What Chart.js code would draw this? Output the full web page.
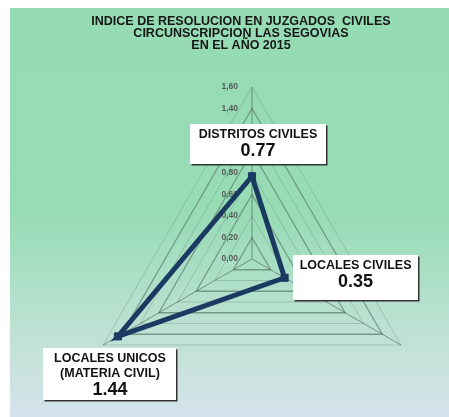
<!DOCTYPE html>
<html>
<head>
<meta charset="utf-8">
<script src="https://cdn.jsdelivr.net/npm/chart.js@4/dist/chart.umd.min.js"></script>
<style>
  html, body { margin: 0; padding: 0; background: #fff; overflow: hidden; width: 449px; height: 417px; }
  #bg {
    position: absolute; left: 10px; top: 8px; width: 439px; height: 409px;
    background: linear-gradient(to bottom, #95dbb3 0%, #97dcb5 50%, #b4e0cd 72%, #c9e3dc 88%, #d5e3ec 100%);
  }
  #wrap { position: absolute; left: 0; top: 0; width: 449px; height: 431px; }
</style>
</head>
<body>
<div id="bg"></div>
<div id="wrap"><canvas id="myChart" width="449" height="431"></canvas></div>
<script>
// chart data
var titleLines = ['INDICE DE RESOLUCION EN JUZGADOS  CIVILES', 'CIRCUNSCRIPCION LAS SEGOVIAS', 'EN EL AÑO 2015'];
var categories = [['DISTRITOS CIVILES'], ['LOCALES CIVILES'], ['LOCALES UNICOS', '(MATERIA CIVIL)']];
var indexValues = [0.77, 0.35, 1.44];
var tickLabels = ['0,00', '0,20', '0,40', '0,60', '0,80', '1,00', '1,20', '1,40', '1,60'];

var navy = '#1b3a62';
var fontFam = '"Liberation Sans", Arial, sans-serif';

// box placement around each point: [dx, dy, width, height]
var boxPlace = [[6, -32, 136, 40], [71, 0, 125, 45], [-8, 38, 133, 52]];

var labelPlugin = {
    id: 'labelPlugin',
    beforeDatasetsDraw: function(chart) {
        var ctx = chart.ctx;
        var r = chart.scales.r;
        ctx.save();
        // title
        ctx.font = 'bold 12.5px ' + fontFam;
        ctx.fillStyle = '#161616';
        ctx.textAlign = 'center';
        ctx.textBaseline = 'middle';
        titleLines.forEach(function(t, i) {
            ctx.fillText(t, 241, 22 + i * 12);
        });
        // tick labels
        ctx.font = 'bold 8.5px ' + fontFam;
        ctx.fillStyle = '#555b58';
        ctx.textAlign = 'right';
        r.ticks.forEach(function(t, i) {
            var d = r.getDistanceFromCenterForValue(t.value);
            ctx.fillText(tickLabels[i], r.xCenter - 14, r.yCenter - d);
        });
        ctx.restore();
    },
    afterDatasetsDraw: function(chart) {
        var ctx = chart.ctx;
        var r = chart.scales.r;
        ctx.save();
        for (var i = 0; i < indexValues.length; i++) {
            var p = r.getPointPositionForValue(i, indexValues[i]);
            var b = boxPlace[i];
            var cx = p.x + b[0], cy = p.y + b[1];
            var x0 = Math.round(cx - b[2] / 2), y0 = Math.round(cy - b[3] / 2);
            ctx.fillStyle = '#333';
            ctx.fillRect(x0 + 1.5, y0 + 1.5, b[2], b[3]);
            ctx.fillStyle = '#ffffff';
            ctx.fillRect(x0, y0, b[2], b[3]);
            ctx.fillStyle = '#111';
            ctx.textAlign = 'center';
            ctx.textBaseline = 'middle';
            var lines = categories[i];
            var ty = y0 + 10.5;
            ctx.font = 'bold 12.5px ' + fontFam;
            for (var j = 0; j < lines.length; j++) {
                ctx.fillText(lines[j], cx, ty);
                ty += 15;
            }
            ctx.font = 'bold 18px ' + fontFam;
            ctx.fillText(indexValues[i].toFixed(2), cx, ty + 2);
        }
        ctx.restore();
    }
};

const ctx = document.getElementById('myChart');

const myChart = new Chart(ctx, {
    type: 'radar',
    data: {
        labels: categories,
        datasets: [{
            label: 'Indice de resolucion',
            data: indexValues,
            borderColor: navy,
            backgroundColor: navy,
            borderWidth: 5,
            fill: false,
            pointStyle: 'rect',
            pointRadius: 5,
            pointBackgroundColor: navy,
            pointBorderColor: navy,
            pointBorderWidth: 1
        }]
    },
    options: {
        responsive: false,
        animation: false,
        layout: { padding: { left: 80, right: 25, top: 87, bottom: 0 } },
        plugins: {
            legend: { display: false },
            tooltip: { enabled: false },
            title: { display: false }
        },
        scales: {
            r: {
                min: 0,
                max: 1.6,
                ticks: { stepSize: 0.2, display: false },
                pointLabels: { display: false },
                grid: {
                    color: function(c) {
                        return c.index % 2 === 1 ? 'rgba(105,140,122,0.85)' : 'rgba(90,110,100,0.4)';
                    },
                    lineWidth: function(c) {
                        return c.index % 2 === 1 ? 1.3 : 0.7;
                    }
                },
                angleLines: { color: 'rgba(70,80,75,0.7)', lineWidth: 0.8 }
            }
        }
    },
    plugins: [labelPlugin]
});
</script>
</body>
</html>
